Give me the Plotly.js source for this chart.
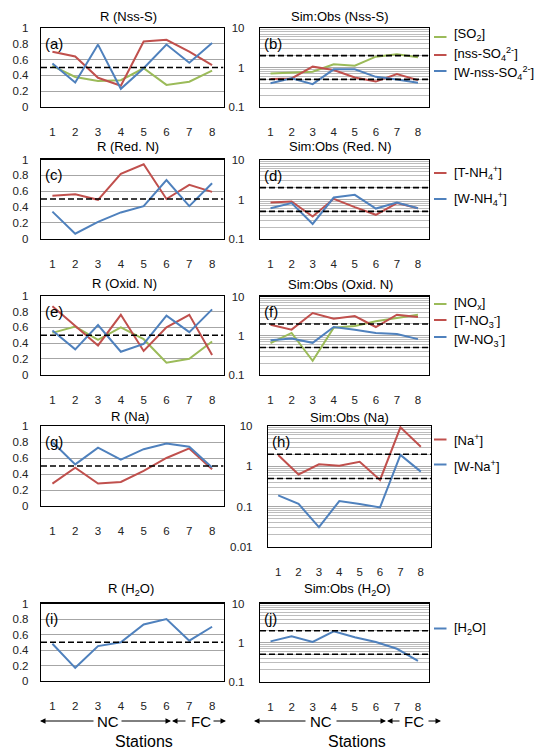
<!DOCTYPE html>
<html>
<head>
<meta charset="utf-8">
<script src="https://cdn.plot.ly/plotly-3.0.1.min.js"></script>
<style>html,body{margin:0;padding:0;background:#fff;}#chart{width:540px;height:750px;}</style>
</head>
<body>
<div id="chart"></div>
<script>
// ---------- DATA ----------
const stations = [1, 2, 3, 4, 5, 6, 7, 8];
const stationTicks = ['1', '2', '3', '4', '5', '6', '7', '8'];
const rTicks = [0, 0.2, 0.4, 0.6, 0.8, 1];
const rTickText = ['0', '0.2', '0.4', '0.6', '0.8', '1'];
const logTicks = [0.1, 1, 10];
const logTickText = ['0.1', '1', '10'];
const logTicksNa = [0.01, 0.1, 1, 10];
const logTickTextNa = ['0.01', '0.1', '1', '10'];
const rRefLine = [0.5];
const ratioRefLines = [0.5, 2];

// (a) R (Nss-S)
const rNssS_SO2 = [0.52, 0.38, 0.33, 0.34, 0.49, 0.28, 0.32, 0.46];
const rNssS_nssSO4 = [0.70, 0.64, 0.37, 0.27, 0.83, 0.85, 0.70, 0.53];
const rNssS_WnssSO4 = [0.55, 0.31, 0.79, 0.23, 0.49, 0.79, 0.56, 0.81];
// (b) Sim:Obs (Nss-S)
const soNssS_SO2 = [0.71, 0.75, 0.78, 1.20, 1.11, 1.88, 2.15, 1.81];
const soNssS_nssSO4 = [0.51, 0.53, 1.05, 0.86, 0.56, 0.44, 0.68, 0.48];
const soNssS_WnssSO4 = [0.40, 0.53, 0.38, 0.90, 0.90, 0.58, 0.50, 0.41];
// (c) R (Red. N)
const rRedN_TNH4 = [0.54, 0.56, 0.49, 0.82, 0.94, 0.50, 0.68, 0.59];
const rRedN_WNH4 = [0.34, 0.06, 0.21, 0.33, 0.41, 0.74, 0.41, 0.70];
// (d) Sim:Obs (Red. N)
const soRedN_TNH4 = [0.84, 0.89, 0.37, 1.04, 0.64, 0.41, 0.81, 0.60];
const soRedN_WNH4 = [0.60, 0.81, 0.24, 1.12, 1.31, 0.59, 0.84, 0.60];
// (e) R (Oxid. N)
const rOxN_NOx = [0.53, 0.61, 0.44, 0.60, 0.45, 0.15, 0.20, 0.42];
const rOxN_TNO3 = [0.87, 0.62, 0.37, 0.76, 0.30, 0.60, 0.76, 0.25];
const rOxN_WNO3 = [0.56, 0.32, 0.63, 0.29, 0.39, 0.75, 0.54, 0.83];
// (f) Sim:Obs (Oxid. N)
const soOxN_NOx = [0.65, 1.18, 0.23, 1.61, 1.78, 2.33, 2.83, 3.43];
const soOxN_TNO3 = [1.90, 1.43, 3.79, 2.72, 3.18, 1.67, 3.43, 2.99];
const soOxN_WNO3 = [0.77, 0.85, 0.66, 1.67, 1.43, 1.18, 1.11, 0.82];
// (g) R (Na)
const rNa_Na = [0.28, 0.48, 0.28, 0.30, 0.44, 0.60, 0.72, 0.46];
const rNa_WNa = [0.80, 0.52, 0.73, 0.58, 0.71, 0.78, 0.74, 0.48];
// (h) Sim:Obs (Na)
const soNa_Na = [1.91, 0.63, 1.12, 1.04, 1.30, 0.46, 9.3, 3.07];
const soNa_WNa = [0.19, 0.117, 0.031, 0.138, 0.117, 0.096, 1.91, 0.74];
// (i) R (H2O)
const rH2O_H2O = [0.48, 0.17, 0.45, 0.50, 0.73, 0.80, 0.52, 0.70];
// (j) Sim:Obs (H2O)
const soH2O_H2O = [1.07, 1.44, 1.03, 1.94, 1.36, 1.03, 0.69, 0.34];

// ---------- STYLE ----------
const W = 540, H = 750;
const FONT = 'Arial, "Liberation Sans", sans-serif';
const GREEN = '#9BBB59', RED = '#C0504D', BLUE = '#4F81BD';
const px = v => v / W;
const py = v => 1 - v / H;

const XL = [px(41), px(223.5)];
const XR = [px(260), px(428.5)];
const XH = [px(268), px(431)];

const panels = [
  {lab: '(a)', title: 'R (Nss-S)', log: false, xd: XL, top: 28, bot: 107, tx: 128, ty: 17,
   series: [[rNssS_SO2, GREEN], [rNssS_nssSO4, RED], [rNssS_WnssSO4, BLUE]]},
  {lab: '(b)', title: 'Sim:Obs (Nss-S)', log: true, xd: XR, top: 28, bot: 107, tx: 340, ty: 17,
   series: [[soNssS_SO2, GREEN], [soNssS_nssSO4, RED], [soNssS_WnssSO4, BLUE]],
   legend: [['[SO<sub>2</sub>]', GREEN, 37, 35], ['[nss-SO<sub>4</sub><sup>2-</sup>]', RED, 55, 54], ['[W-nss-SO<sub>4</sub><sup>2-</sup>]', BLUE, 71, 73]]},
  {lab: '(c)', title: 'R (Red. N)', log: false, xd: XL, top: 159.5, bot: 238.5, tx: 128, ty: 146,
   series: [[rRedN_TNH4, RED], [rRedN_WNH4, BLUE]]},
  {lab: '(d)', title: 'Sim:Obs (Red. N)', log: true, xd: XR, top: 160, bot: 239, tx: 340, ty: 146,
   series: [[soRedN_TNH4, RED], [soRedN_WNH4, BLUE]],
   legend: [['[T-NH<sub>4</sub><sup>+</sup>]', RED, 173, 173], ['[W-NH<sub>4</sub><sup>+</sup>]', BLUE, 199, 199]]},
  {lab: '(e)', title: 'R (Oxid. N)', log: false, xd: XL, top: 296, bot: 374.5, tx: 124, ty: 283,
   series: [[rOxN_NOx, GREEN], [rOxN_TNO3, RED], [rOxN_WNO3, BLUE]]},
  {lab: '(f)', title: 'Sim:Obs (Oxid. N)', log: true, xd: XR, top: 296.5, bot: 375, tx: 340, ty: 284,
   series: [[soOxN_NOx, GREEN], [soOxN_TNO3, RED], [soOxN_WNO3, BLUE]],
   legend: [['[NO<sub>x</sub>]', GREEN, 304, 303], ['[T-NO<sub>3</sub><sup>-</sup>]', RED, 320, 321], ['[W-NO<sub>3</sub><sup>-</sup>]', BLUE, 337, 340]]},
  {lab: '(g)', title: 'R (Na)', log: false, xd: XL, top: 426, bot: 506, tx: 130, ty: 416,
   series: [[rNa_Na, RED], [rNa_WNa, BLUE]]},
  {lab: '(h)', title: 'Sim:Obs (Na)', log: true, na: true, xd: XH, top: 426, bot: 547, tx: 349, ty: 417,
   series: [[soNa_Na, RED], [soNa_WNa, BLUE]],
   legend: [['[Na<sup>+</sup>]', RED, 439.5, 440], ['[W-Na<sup>+</sup>]', BLUE, 464.5, 466]]},
  {lab: '(i)', title: 'R (H<sub>2</sub>O)', log: false, xd: XL, top: 603.5, bot: 681, tx: 131, ty: 589,
   series: [[rH2O_H2O, BLUE]]},
  {lab: '(j)', title: 'Sim:Obs (H<sub>2</sub>O)', log: true, xd: XR, top: 603.5, bot: 681.5, tx: 347, ty: 589,
   series: [[soH2O_H2O, BLUE]],
   legend: [['[H<sub>2</sub>O]', BLUE, 628.5, 628.5]]}
];

const traces = [];
const layout = {
  width: W, height: H,
  margin: {l: 0, r: 0, t: 0, b: 0},
  paper_bgcolor: '#fff', plot_bgcolor: '#fff',
  showlegend: false,
  font: {family: FONT, size: 11, color: '#222'},
  annotations: [], shapes: []
};

function minorVals(lo, hi) {
  const v = [];
  for (let e = lo; e < hi; e++) for (let k = 2; k <= 9; k++) v.push(k * Math.pow(10, e));
  return v;
}

panels.forEach((p, i) => {
  const n = i + 1;
  const xa = 'x' + (n === 1 ? '' : n), ya = 'y' + (n === 1 ? '' : n);
  const xk = 'xaxis' + (n === 1 ? '' : n), yk = 'yaxis' + (n === 1 ? '' : n);
  layout[xk] = {
    domain: p.xd, anchor: ya, range: [0.5, 8.5], fixedrange: true,
    tickmode: 'array', tickvals: stations, ticktext: stationTicks,
    ticks: 'outside', ticklen: 14, tickcolor: 'rgba(0,0,0,0)',
    showgrid: false, zeroline: false,
    showline: true, mirror: true, linecolor: '#000', linewidth: 1.2,
    tickfont: {family: FONT, size: 11.5, color: '#222'}
  };
  const yBase = {
    domain: [py(p.bot), py(p.top)], anchor: xa, fixedrange: true,
    ticks: 'outside', tickcolor: 'rgba(0,0,0,0)',
    zeroline: false, showline: true, mirror: true, linecolor: '#000', linewidth: 1.2,
    tickfont: {family: FONT, size: 11.5, color: '#222'}
  };
  if (p.log) {
    const lo = p.na ? -2 : -1;
    Object.assign(yBase, {
      type: 'log', range: [lo, 1], tickmode: 'array',
      tickvals: p.na ? logTicksNa : logTicks, ticktext: p.na ? logTickTextNa : logTickText,
      ticklen: 12, showgrid: true, gridcolor: '#A8A8A8', gridwidth: 1,
      minor: {tickmode: 'array', tickvals: minorVals(lo, 1), showgrid: true, gridcolor: '#BDBDBD', gridwidth: 1, ticks: ''}
    });
  } else {
    Object.assign(yBase, {
      range: [0, 1], tickmode: 'array', tickvals: rTicks, ticktext: rTickText,
      ticklen: 9, showgrid: true, gridcolor: '#A6A6A6', gridwidth: 1
    });
  }
  layout[yk] = yBase;

  p.series.forEach(s => {
    traces.push({x: stations, y: s[0], xaxis: xa, yaxis: ya, type: 'scatter', mode: 'lines',
      line: {color: s[1], width: 2}, hoverinfo: 'skip', showlegend: false});
  });
  (p.log ? ratioRefLines : rRefLine).forEach(r => {
    traces.push({x: [0.5, 8.5], y: [r, r], xaxis: xa, yaxis: ya, type: 'scatter', mode: 'lines',
      line: {color: '#000', width: 1.6, dash: '6px,3px'}, hoverinfo: 'skip', showlegend: false});
  });

  layout.annotations.push({text: p.title, x: px(p.tx), y: py(p.ty), xref: 'paper', yref: 'paper',
    showarrow: false, xanchor: 'center', yanchor: 'middle', font: {family: FONT, size: 13, color: '#000'}});
  layout.annotations.push({text: p.lab, x: px(p.xd[0] * W + 1.5), y: py(p.top + 15), xref: 'paper', yref: 'paper',
    showarrow: false, xanchor: 'left', yanchor: 'middle', font: {family: FONT, size: 15, color: '#000'}});

  if (p.legend) {
    p.legend.forEach(l => {
      layout.shapes.push({type: 'line', xref: 'paper', yref: 'paper', x0: px(434), x1: px(446.5),
        y0: py(l[2]), y1: py(l[2]), line: {color: l[1], width: 2}});
      layout.annotations.push({text: l[0], x: px(452), y: py(l[3]), xref: 'paper', yref: 'paper',
        showarrow: false, xanchor: 'left', yanchor: 'middle', font: {family: FONT, size: 13, color: '#000'}});
    });
  }
});

// Bottom station group labels
function txt(t, x, y, size) {
  return {text: t, x: px(x), y: py(y), xref: 'paper', yref: 'paper', showarrow: false,
    xanchor: 'center', yanchor: 'middle', font: {family: FONT, size: size, color: '#000'}};
}
function arrow(head, tail, y) {
  return {text: '', x: px(head), y: py(y), xref: 'paper', yref: 'paper', showarrow: true,
    ax: tail - head, ay: 0, axref: 'pixel', ayref: 'pixel', arrowhead: 2, arrowsize: 1.1,
    arrowwidth: 1, arrowcolor: '#000', standoff: 0, startstandoff: 0};
}
const AY = 721;
[
  // left
  txt('NC', 107.5, AY, 15), txt('FC', 200.5, AY, 15), txt('Stations', 144, 741, 16),
  arrow(40, 95, AY), arrow(171, 120, AY), arrow(172, 187, AY), arrow(226, 212, AY),
  // right
  txt('NC', 321, AY, 15), txt('FC', 414, AY, 15), txt('Stations', 357, 741, 16),
  arrow(254, 307, AY), arrow(386, 335, AY), arrow(387, 401, AY), arrow(441, 427, AY)
].forEach(a => layout.annotations.push(a));

Plotly.newPlot('chart', traces, layout, {staticPlot: true, displayModeBar: false});
</script>
</body>
</html>
